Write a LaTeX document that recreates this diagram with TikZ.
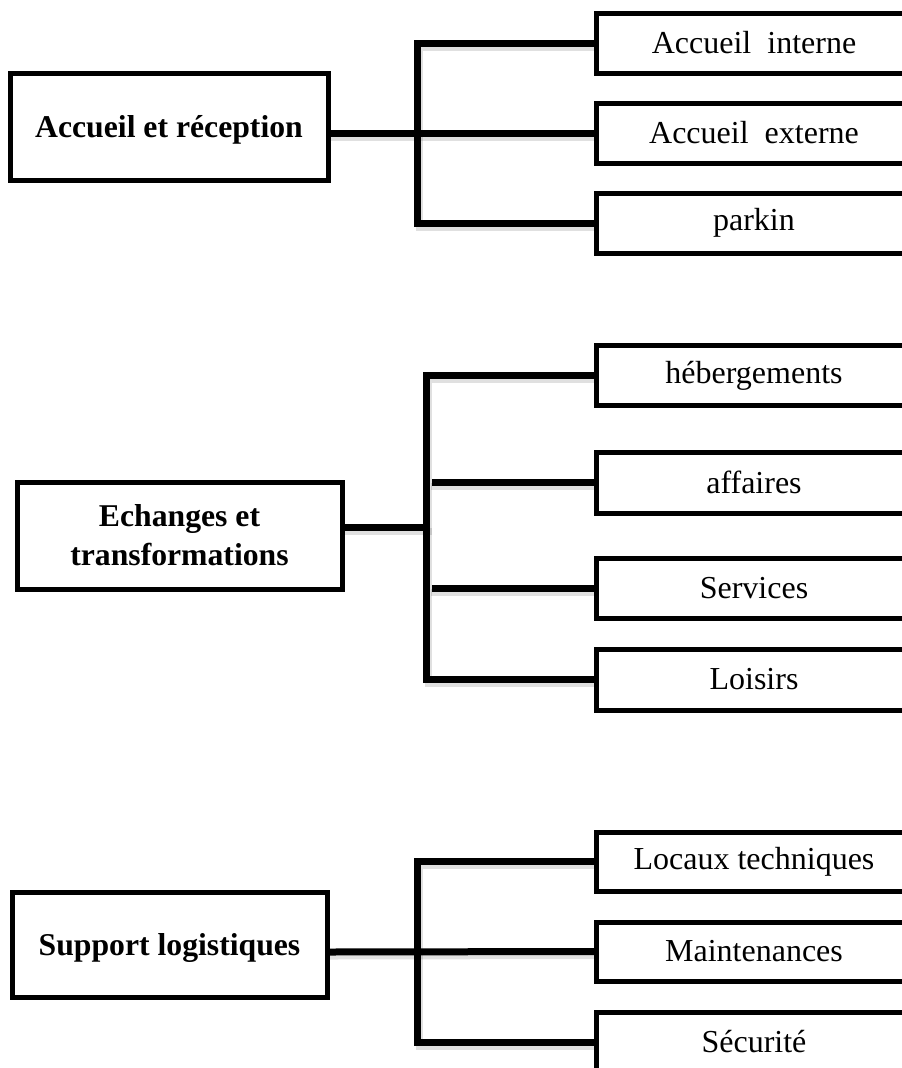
\documentclass[tikz,border=0pt]{standalone}
\usepackage{fontspec}
\setmainfont{Liberation Serif}
\begin{document}
\begin{tikzpicture}[x=1pt,y=-1pt,
  mainbox/.style={draw, line width=5pt, rectangle, align=center, inner sep=0pt,
    font=\fontsize{31.7}{39}\selectfont\bfseries},
  subbox/.style={draw, line width=5pt, rectangle, inner sep=0pt, minimum width=316pt,
    font=\fontsize{32}{38}\selectfont},
  link/.style={line width=7pt, line cap=rect, line join=miter},
  shade/.style={line width=7pt, black, opacity=0.12, line cap=rect, line join=miter, transform canvas={shift={(2pt,-4pt)}}}
]
\useasboundingbox (0,0) rectangle (902,1068);
\clip (0,0) rectangle (902,1068);

% ---------- group 1 ----------
\node[mainbox, text depth=0pt, minimum width=318pt, minimum height=107pt] (m1) at (169,126.5) {Accueil et réception};
\node[subbox, minimum height=60pt] (a1) at (754,43) {Accueil~ interne};
\node[subbox, minimum height=60pt] (a2) at (754,133) {Accueil~ externe};
\node[subbox, minimum height=60pt] (a3) at (754,223) {parkin};
\coordinate (j1) at (417,133);
\draw[shade] (a1.west) -| (j1) |- (a3.west);
\draw[shade] (m1.east |- j1) -- (a2.west);
\draw[link] (a1.west) -| (j1) |- (a3.west);
\draw[link] (m1.east |- j1) -- (a2.west);

% ---------- group 2 ----------
\node[mainbox, minimum width=325pt, minimum height=107pt] (m2) at (179.5,535.5) {Echanges et\\transformations};
\node[subbox, minimum height=60pt] (h1) at (754,375.5) {hébergements};
\node[subbox, minimum height=61pt] (h2) at (754,482.5) {affaires};
\node[subbox, minimum height=60pt] (h3) at (754,588) {Services};
\node[subbox, minimum height=61pt] (h4) at (754,679.5) {Loisirs};
\coordinate (j2) at (426,527);
\coordinate (k2) at (432,527);
\draw[shade] (h1.west) -| (j2) |- (h4.west);
\draw[shade] (m2.east |- j2) -- (j2);
\draw[shade] (k2 |- h2.west) -- (h2.west);
\draw[shade] (k2 |- h3.west) -- (h3.west);
\draw[link] (h1.west) -| (j2) |- (h4.west);
\draw[link] (m2.east |- j2) -- (j2);
\draw[link, line cap=butt] (k2 |- h2.west) -- (h2.west);
\draw[link, line cap=butt] (k2 |- h3.west) -- (h3.west);

% ---------- group 3 ----------
\node[mainbox, text depth=0pt, minimum width=315pt, minimum height=105pt] (m3) at (169.5,944.5) {Support logistiques};
\node[subbox, minimum height=59pt] (c1) at (754,861.5) {Locaux techniques};
\node[subbox, minimum height=59pt] (c2) at (754,951.5) {Maintenances};
\node[subbox, minimum height=60pt] (c3) at (754,1042) {Sécurité};
\coordinate (j3) at (417,952);
\draw[shade] (c1.west) -| (j3) |- (c3.west);
\draw[shade] (m3.east |- j3) -- (c2.west);
\draw[link] (c1.west) -| (j3) |- (c3.west);
\draw[link] (m3.east |- j3) -- (c2.west);
\end{tikzpicture}
\end{document}
